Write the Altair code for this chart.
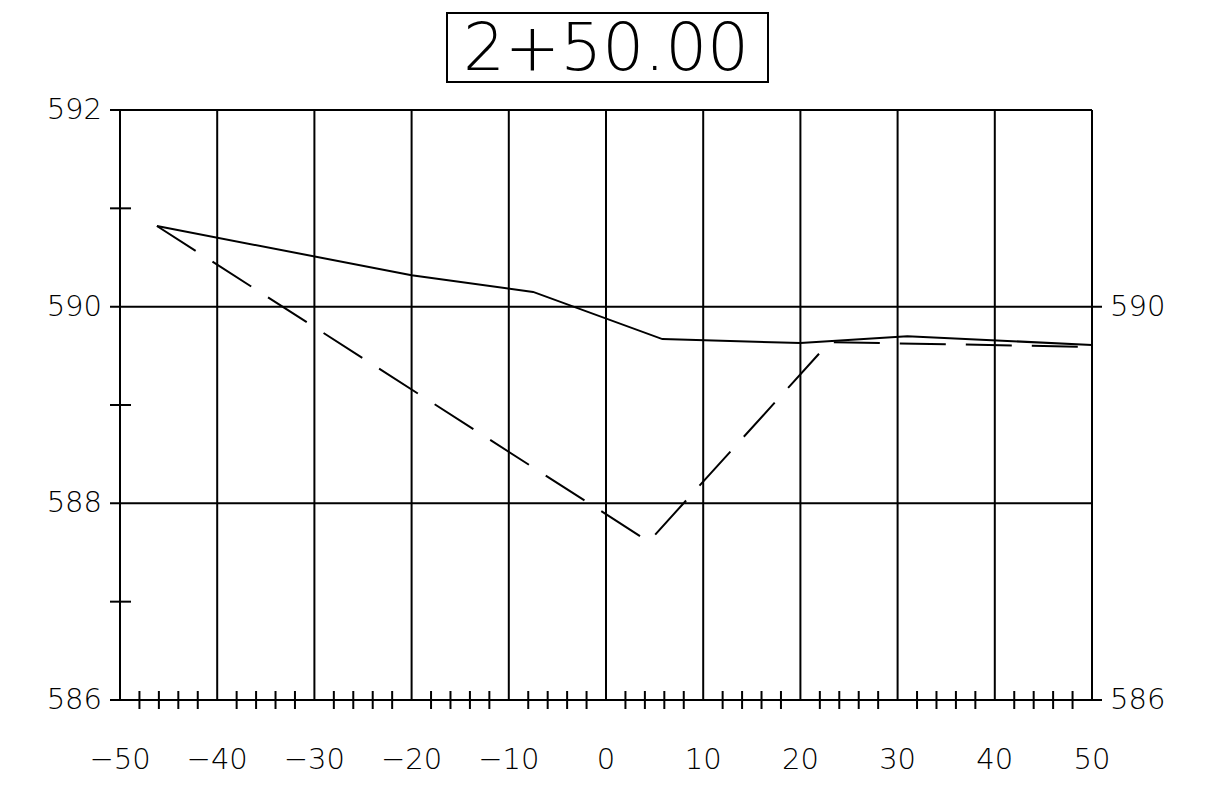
import altair as alt
import pandas as pd

# ---- data ----
title_text = ["2+50.00"]

x_major = [-50, -40, -30, -20, -10, 0, 10, 20, 30, 40, 50]
x_labels = ["−50", "−40", "−30", "−20", "−10", "0", "10", "20", "30", "40", "50"]
x_minor = [-48, -46, -44, -42, -38, -36, -34, -32, -28, -26, -24, -22,
           -18, -16, -14, -12, -8, -6, -4, -2, 2, 4, 6, 8,
           12, 14, 16, 18, 22, 24, 26, 28, 32, 34, 36, 38,
           42, 44, 46, 48]

y_grid_left = [592, 588]          # lines extended only to the left
y_grid_both = [590, 586]          # lines extended on both sides
y_left_labels = [592, 590, 588, 586]
y_right_labels = [590, 586]
y_minor = [591, 589, 587]

ground_x = [-46.2, -20.0, -7.5, 5.8, 20.0, 31.0, 50.0]
ground_y = [590.82, 590.32, 590.15, 589.67, 589.63, 589.70, 589.61]

design_x = [-46.2, 4.4, 23.0, 50.0]
design_y = [590.82, 587.61, 589.64, 589.59]

# ---- layout ----
W, H = 972, 590
FONT = "DejaVu Sans"

xs = alt.Scale(domain=[-50, 50], nice=False, zero=False)
ys = alt.Scale(domain=[586, 592], nice=False, zero=False)

df_xmaj = pd.DataFrame({"x": x_major, "lab": x_labels})
df_xmin = pd.DataFrame({"x": x_minor})
df_hl = pd.DataFrame({"y": y_grid_left})
df_hb = pd.DataFrame({"y": y_grid_both})
df_yl = pd.DataFrame({"y": y_left_labels, "lab": [str(v) for v in y_left_labels]})
df_yr = pd.DataFrame({"y": y_right_labels, "lab": [str(v) for v in y_right_labels]})
df_ymin = pd.DataFrame({"y": y_minor})
df_ground = pd.DataFrame({"x": ground_x, "y": ground_y, "i": range(len(ground_x))})
df_design = pd.DataFrame({"x": design_x, "y": design_y, "i": range(len(design_x))})
df_title = pd.DataFrame({"t": title_text})

X = lambda: alt.X("x:Q", scale=xs, axis=None)
Y = lambda: alt.Y("y:Q", scale=ys, axis=None)

vgrid = alt.Chart(df_xmaj).mark_rule(color="black", strokeWidth=2).encode(
    x=X(), y=alt.value(0), y2=alt.value(H))

hgrid_l = alt.Chart(df_hl).mark_rule(color="black", strokeWidth=2).encode(
    y=Y(), x=alt.value(-10), x2=alt.value(W))

hgrid_b = alt.Chart(df_hb).mark_rule(color="black", strokeWidth=2).encode(
    y=Y(), x=alt.value(-10), x2=alt.value(W + 10))

xminor = alt.Chart(df_xmin).mark_rule(color="black", strokeWidth=2).encode(
    x=X(), y=alt.value(H - 9), y2=alt.value(H + 9))

yminor = alt.Chart(df_ymin).mark_rule(color="black", strokeWidth=2).encode(
    y=Y(), x=alt.value(-10), x2=alt.value(11))

ground = alt.Chart(df_ground).mark_line(color="black", strokeWidth=2).encode(
    x=X(), y=Y(), order="i:Q")

design = alt.Chart(df_design).mark_line(
    color="black", strokeWidth=2, strokeDash=[46, 20]).encode(
    x=X(), y=Y(), order="i:Q")

xlab = alt.Chart(df_xmaj).mark_text(
    font=FONT, fontSize=29, fontWeight=200, color="black",
    align="center", baseline="middle").encode(
    x=X(), y=alt.value(H + 60), text="lab:N")

ylab_l = alt.Chart(df_yl).mark_text(
    font=FONT, fontSize=29, fontWeight=200, color="black",
    align="right", baseline="middle").encode(
    y=Y(), x=alt.value(-18), text="lab:N")

ylab_r = alt.Chart(df_yr).mark_text(
    font=FONT, fontSize=29, fontWeight=200, color="black",
    align="left", baseline="middle").encode(
    y=Y(), x=alt.value(W + 18), text="lab:N")

title_box = alt.Chart(df_title).mark_rect(
    filled=False, stroke="black", strokeWidth=2).encode(
    x=alt.value(327), x2=alt.value(648), y=alt.value(-97), y2=alt.value(-28))

title = alt.Chart(df_title).mark_text(
    font=FONT, fontSize=66, fontWeight=200, color="black",
    align="center", baseline="middle").encode(
    x=alt.value(486), y=alt.value(-60), text="t:N")

chart = alt.layer(
    vgrid, hgrid_l, hgrid_b, xminor, yminor, design, ground,
    xlab, ylab_l, ylab_r, title_box, title
).properties(
    width=W, height=H,
    autosize=alt.AutoSizeParams(type="none"),
    padding={"left": 112, "top": 102, "right": 100, "bottom": 82},
    background="white",
).configure_view(strokeWidth=0)

chart.save("out.html", embed_options={"renderer": "svg", "actions": False})
